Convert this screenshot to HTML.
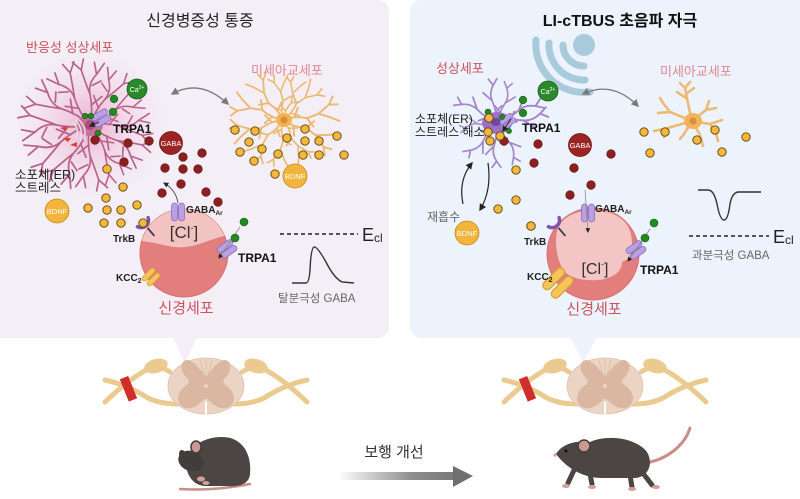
<!DOCTYPE html>
<html><head><meta charset="utf-8"><style>
html,body{margin:0;padding:0;background:#fff;}
svg{display:block;font-family:"Liberation Sans","Noto Sans CJK KR",sans-serif;}
</style></head><body>
<svg width="800" height="499" viewBox="0 0 800 499" xmlns="http://www.w3.org/2000/svg">
<defs>
<radialGradient id="glow" cx="0.5" cy="0.5" r="0.5">
<stop offset="0" stop-color="#e27aae" stop-opacity="0.55"/>
<stop offset="0.45" stop-color="#eba2c6" stop-opacity="0.3"/>
<stop offset="1" stop-color="#f3d2e4" stop-opacity="0"/>
</radialGradient>
<linearGradient id="arw" x1="338" y1="0" x2="473" y2="0" gradientUnits="userSpaceOnUse">
<stop offset="0" stop-color="#ffffff"/>
<stop offset="0.55" stop-color="#8d8d8d"/>
<stop offset="1" stop-color="#6f6f6f"/>
</linearGradient>
<marker id="ahg" viewBox="0 0 10 10" refX="8" refY="5" markerWidth="6" markerHeight="6" orient="auto-start-reverse"><path d="M0,0 L10,5 L0,10 z" fill="#7a7a7a"/></marker>
<marker id="ahk" viewBox="0 0 10 10" refX="8" refY="5" markerWidth="6" markerHeight="6" orient="auto-start-reverse"><path d="M0,0 L10,5 L0,10 z" fill="#222"/></marker>
<path id="ab" d="M0,0 Q14,-3 28,0 Q38,2 46,-6 M28,0 Q38,4 50,8 M46,-6 L56,-13 M46,-6 L57,-4 M50,8 L60,6 M50,8 L57,16 M18,-1 L26,-11 M36,-2 L40,-10"/>
<path id="mg" d="M0,0 Q10,-2 20,2 L30,0 L40,-6 M30,0 L40,5 M20,2 L24,10 M40,-6 L44,-12 M40,-6 L47,-5 M40,5 L46,9 M10,-1 L14,-8"/>
<path id="pb" d="M0,0 Q12,-2 24,1 Q32,3 40,-3 M24,1 L34,9 M40,-3 L46,-8 M40,-3 L47,1 M12,-1 L17,-8"/>
<g id="ch"><rect x="-6.5" y="-9" width="6" height="18" rx="3" fill="#b9a0e2" stroke="#8c6cc2" stroke-width="0.8"/><rect x="0.5" y="-9" width="6" height="18" rx="3" fill="#b9a0e2" stroke="#8c6cc2" stroke-width="0.8"/></g>
<g id="kc"><rect x="-6" y="-8" width="5" height="16" rx="2.5" fill="#f5c55a" stroke="#d9a236" stroke-width="0.8"/><rect x="1" y="-8" width="5" height="16" rx="2.5" fill="#f5c55a" stroke="#d9a236" stroke-width="0.8"/></g>
<g id="tk"><path d="M-7,-5 A7.5,7.5 0 0 0 7,-5" stroke="#7d56ab" stroke-width="3.5" fill="none" stroke-linecap="round"/><line x1="0" y1="2.5" x2="0" y2="13" stroke="#3a3a4a" stroke-width="1.8"/></g>
</defs>

<!-- Panels -->
<rect x="-10" y="0" width="399" height="338" rx="11" fill="#f4eff6"/>
<path d="M173,337 L185,363 L197,337 Z" fill="#f4eff6"/>
<rect x="410" y="0" width="400" height="338" rx="11" fill="#ecf3fc"/>
<path d="M570,337 L583,362 L597,337 Z" fill="#ecf3fc"/>

<!-- Titles -->
<text x="200" y="26" font-size="16" text-anchor="middle" fill="#222">신경병증성 통증</text>
<text x="620" y="26" font-size="16" font-weight="bold" text-anchor="middle" fill="#111">LI-cTBUS 초음파 자극</text>

<!-- ============ LEFT PANEL ============ -->
<text x="26" y="52" font-size="13" fill="#c9525c">반응성 성상세포</text>
<text x="251" y="75" font-size="13" fill="#e0868f">미세아교세포</text>

<!-- left astrocyte -->
<circle cx="90" cy="125" r="80" fill="url(#glow)"/>
<g stroke="#b8628a" stroke-width="1.5" fill="none" stroke-linecap="round">
<use href="#ab" transform="translate(90,125) rotate(2) scale(1.05)"/>
<use href="#ab" transform="translate(90,125) rotate(30) scale(1.1,-1.1)"/>
<use href="#ab" transform="translate(90,125) rotate(60) scale(1.05)"/>
<use href="#ab" transform="translate(90,125) rotate(90) scale(1.1,-1.1)"/>
<use href="#ab" transform="translate(90,125) rotate(120) scale(1.15)"/>
<use href="#ab" transform="translate(90,125) rotate(150) scale(1.2,-1.2)"/>
<use href="#ab" transform="translate(90,125) rotate(180) scale(1.2)"/>
<use href="#ab" transform="translate(90,125) rotate(210) scale(1.15,-1.15)"/>
<use href="#ab" transform="translate(90,125) rotate(240) scale(1.1)"/>
<use href="#ab" transform="translate(90,125) rotate(270) scale(1.1,-1.1)"/>
<use href="#ab" transform="translate(90,125) rotate(300) scale(1.05)"/>
<use href="#ab" transform="translate(90,125) rotate(330) scale(1.0,-1.0)"/>
</g>
<ellipse cx="90" cy="125" rx="13" ry="11" fill="#c8709a"/>
<circle cx="90" cy="125" r="5" fill="#a84c78"/>
<!-- ER -->
<g fill="none" stroke="#e6e0e6" stroke-width="1.5">
<path d="M72,122 Q80,128 76,138"/><path d="M75,120 Q84,128 80,140"/><path d="M78,119 Q88,128 84,140"/>
</g>
<g fill="#e23a36">
<path d="M60,128 l7,-2 l-1,5 z"/><path d="M63,138 l8,0 l-3,4 z"/><path d="M70,145 l7,-3 l0,5 z"/>
</g>
<use href="#ch" transform="translate(101,118) rotate(60)"/>
<line x1="99" y1="122" x2="90" y2="126" stroke="#222" stroke-width="1" marker-end="url(#ahk)"/>
<text x="113" y="133" font-size="12" font-weight="bold" fill="#111">TRPA1</text>

<!-- Ca2+ -->
<circle cx="137" cy="89" r="10" fill="#2a8a2a" stroke="#1c5e1c" stroke-width="0.8"/>
<text x="137" y="92" font-size="7" fill="#fff" text-anchor="middle">Ca<tspan font-size="5" dy="-3">2+</tspan></text>
<g fill="#238a23" stroke="#165e16" stroke-width="0.6">
<circle cx="114" cy="99" r="3.8"/><circle cx="113" cy="112" r="3.8"/><circle cx="85" cy="116" r="2.8"/><circle cx="91" cy="116" r="2.8"/><circle cx="98" cy="133" r="3"/>
</g>

<!-- GABA -->
<circle cx="171" cy="143" r="11.5" fill="#9b2424" stroke="#6e1414" stroke-width="0.8"/>
<text x="171" y="146" font-size="7.5" fill="#fff" text-anchor="middle">GABA</text>
<g fill="#8e1f1f" stroke="#5c1010" stroke-width="0.6">
<circle cx="95" cy="140" r="4.3"/><circle cx="128" cy="143" r="4.3"/><circle cx="149" cy="141" r="4.3"/><circle cx="183" cy="157" r="4.3"/><circle cx="202" cy="153" r="4.3"/><circle cx="124" cy="162" r="4.3"/><circle cx="165" cy="168" r="4.3"/><circle cx="183" cy="169" r="4.3"/><circle cx="198" cy="169" r="4.3"/><circle cx="181" cy="184" r="4.3"/><circle cx="162" cy="193" r="4.3"/><circle cx="206" cy="192" r="4.3"/><circle cx="218" cy="202" r="4.3"/>
</g>

<text x="15" y="179" font-size="12.5" fill="#222">소포체(ER)</text>
<text x="15" y="192" font-size="12.5" fill="#222">스트레스</text>

<!-- left microglia -->
<g stroke="#ebb872" stroke-width="1.6" fill="none" stroke-linecap="round">
<use href="#mg" transform="translate(283,120) rotate(-95) scale(0.95)"/>
<use href="#mg" transform="translate(283,120) rotate(-125) scale(1.1,-1.1)"/>
<use href="#mg" transform="translate(283,120) rotate(-160) scale(1.15)"/>
<use href="#mg" transform="translate(283,120) rotate(165) scale(1.15,-1.15)"/>
<use href="#mg" transform="translate(283,120) rotate(130) scale(1.05)"/>
<use href="#mg" transform="translate(283,120) rotate(95) scale(1.0,-1.0)"/>
<use href="#mg" transform="translate(283,120) rotate(60) scale(1.0)"/>
<use href="#mg" transform="translate(283,120) rotate(25) scale(1.2,-1.2)"/>
<use href="#mg" transform="translate(283,120) rotate(-10) scale(1.2)"/>
<use href="#mg" transform="translate(283,120) rotate(-45) scale(1.05,-1.05)"/>
<use href="#mg" transform="translate(283,120) rotate(-70) scale(0.95)"/>
</g>
<ellipse cx="284" cy="120" rx="8" ry="7" fill="#f2b44e"/>
<circle cx="284" cy="120" r="3.5" fill="#dd8a3a"/>

<g fill="#f3b83b" stroke="#5e4310" stroke-width="0.9">
<circle cx="107" cy="169" r="4.2"/><circle cx="123" cy="187" r="4.2"/><circle cx="106" cy="198" r="4.2"/><circle cx="88" cy="208" r="4.2"/><circle cx="107" cy="210" r="4.2"/><circle cx="121" cy="210" r="4.2"/><circle cx="137" cy="205" r="4.2"/><circle cx="104" cy="223" r="4.2"/><circle cx="121" cy="223" r="4.2"/>
<circle cx="235" cy="130" r="4.2"/><circle cx="255" cy="131" r="4.2"/><circle cx="249" cy="142" r="4.2"/><circle cx="240" cy="152" r="4.2"/><circle cx="262" cy="149" r="4.2"/><circle cx="254" cy="161" r="4.2"/><circle cx="278" cy="154" r="4.2"/><circle cx="287" cy="138" r="4.2"/><circle cx="305" cy="129" r="4.2"/><circle cx="305" cy="141" r="4.2"/><circle cx="319" cy="141" r="4.2"/><circle cx="337" cy="136" r="4.2"/><circle cx="319" cy="155" r="4.2"/><circle cx="303" cy="155" r="4.2"/><circle cx="344" cy="155" r="4.2"/><circle cx="275" cy="174" r="4.2"/>
</g>
<circle cx="295" cy="176" r="12" fill="#f2b43a" stroke="#c98a1e" stroke-width="0.8"/>
<text x="295" y="179" font-size="7.5" fill="#fff" text-anchor="middle">BDNF</text>
<circle cx="57" cy="211" r="12" fill="#f2b43a" stroke="#c98a1e" stroke-width="0.8"/>
<text x="57" y="214" font-size="7.5" fill="#fff" text-anchor="middle">BDNF</text>

<path d="M172,94 Q200,78 228,104" fill="none" stroke="#7a7a7a" stroke-width="1.3" marker-start="url(#ahg)" marker-end="url(#ahg)"/>

<!-- left neuron -->
<defs><clipPath id="cl1"><circle cx="184" cy="253" r="44"/></clipPath><clipPath id="cl2"><circle cx="593" cy="254" r="46"/></clipPath></defs>
<circle cx="184" cy="253" r="44" fill="#e27e7c" stroke="#d86e6e" stroke-width="1"/>
<path clip-path="url(#cl1)" d="M130,205 L240,205 L240,232 Q222,236 205,242 Q185,250 168,246 Q152,242 135,240 Z" fill="#f2c3c1"/>
<text x="184" y="238" font-size="17" text-anchor="middle" fill="#333">[Cl<tspan font-size="9" dy="-7">-</tspan><tspan dy="7">]</tspan></text>
<use href="#ch" transform="translate(178,212)"/>
<path d="M178,203 Q176,190 164,183" fill="none" stroke="#444" stroke-width="0.9" marker-end="url(#ahk)"/>
<text x="186" y="213" font-size="10" font-weight="bold" fill="#222">GABA<tspan font-size="6.5" dy="2">Ar</tspan></text>
<use href="#tk" transform="translate(146,226) rotate(-40)"/>
<circle cx="143" cy="223" r="4.2" fill="#f3b83b" stroke="#5e4310" stroke-width="0.9"/>
<text x="113" y="242" font-size="10" font-weight="bold" fill="#222">TrkB</text>
<use href="#kc" transform="translate(151,277) rotate(45)"/>
<text x="116" y="281" font-size="10" font-weight="bold" fill="#222">KCC<tspan font-size="7" dy="2">2</tspan></text>
<use href="#ch" transform="translate(227,249) rotate(55)"/>
<line x1="240" y1="227" x2="219" y2="258" stroke="#888" stroke-width="0.8" marker-end="url(#ahk)"/>
<g fill="#238a23" stroke="#165e16" stroke-width="0.6"><circle cx="244" cy="222" r="4"/><circle cx="235" cy="238" r="4"/></g>
<text x="238" y="262" font-size="12" font-weight="bold" fill="#111">TRPA1</text>
<text x="186" y="313" font-size="15" text-anchor="middle" fill="#c9525c">신경세포</text>

<line x1="280" y1="234" x2="358" y2="234" stroke="#222" stroke-width="1.4" stroke-dasharray="4,3"/>
<text x="362" y="241" font-size="18" fill="#222">E<tspan font-size="12" dy="1">cl</tspan></text>
<path d="M292,283 L306,283 Q309,283 310,270 Q311,248 314,247 Q317,246 326,262 Q334,278 342,282 L354,283" fill="none" stroke="#333" stroke-width="1.4"/>
<text x="278" y="302" font-size="11.5" fill="#666">탈분극성 GABA</text>

<!-- ============ RIGHT PANEL ============ -->
<text x="436" y="73" font-size="13" fill="#c9525c">성상세포</text>
<text x="660" y="76" font-size="13" fill="#e0868f">미세아교세포</text>

<!-- ultrasound -->
<g fill="none" stroke="#a9cadb" stroke-width="7" stroke-linecap="round">
<path d="M563,45 A21,21 0 0 0 584,66"/>
<path d="M549,43 A35,35 0 0 0 585,80"/>
<path d="M536,40 A48,48 0 0 0 590,92"/>
</g>
<circle cx="584" cy="45" r="11" fill="#a9cadb"/>

<!-- right astrocyte -->
<g stroke="#a585cb" stroke-width="1.8" fill="none" stroke-linecap="round">
<use href="#pb" transform="translate(497,123) rotate(-148) scale(1.0)"/>
<use href="#pb" transform="translate(497,123) rotate(-100) scale(0.95,-0.95)"/>
<use href="#pb" transform="translate(497,123) rotate(-70) scale(0.9)"/>
<use href="#pb" transform="translate(497,123) rotate(-28) scale(1.05,-1.05)"/>
<use href="#pb" transform="translate(497,123) rotate(-8) scale(1.1)"/>
<use href="#pb" transform="translate(497,123) rotate(130) scale(0.95,-0.95)"/>
<use href="#pb" transform="translate(497,123) rotate(95) scale(0.95)"/>
<use href="#pb" transform="translate(497,123) rotate(60) scale(0.95,-0.95)"/>
<use href="#pb" transform="translate(497,123) rotate(175) scale(0.8)"/>
</g>
<ellipse cx="497" cy="123" rx="15" ry="11" fill="#9c72c6"/>
<ellipse cx="496" cy="122" rx="5" ry="4" fill="#6d4a9c"/>
<use href="#ch" transform="translate(508,121) rotate(50) scale(0.8)"/>
<line x1="511" y1="119" x2="503" y2="131" stroke="#222" stroke-width="1" marker-end="url(#ahk)"/>
<text x="522" y="132" font-size="12" font-weight="bold" fill="#111">TRPA1</text>
<text x="415" y="123" font-size="12" fill="#222">소포체(ER)</text>
<text x="415" y="136" font-size="12" fill="#222">스트레스 해소</text>

<circle cx="548" cy="91" r="10" fill="#2a8a2a" stroke="#1c5e1c" stroke-width="0.8"/>
<text x="548" y="94" font-size="7" fill="#fff" text-anchor="middle">Ca<tspan font-size="5" dy="-3">2+</tspan></text>
<g fill="#238a23" stroke="#165e16" stroke-width="0.6">
<circle cx="488" cy="112" r="3"/><circle cx="502" cy="117" r="2.6"/><circle cx="509" cy="131" r="2.6"/><circle cx="523" cy="100" r="3.8"/><circle cx="523" cy="113" r="3.8"/>
</g>
<circle cx="580" cy="145" r="11.5" fill="#9b2424" stroke="#6e1414" stroke-width="0.8"/>
<text x="580" y="148" font-size="7.5" fill="#fff" text-anchor="middle">GABA</text>
<g fill="#8e1f1f" stroke="#5c1010" stroke-width="0.6">
<circle cx="504" cy="141" r="4.3"/><circle cx="538" cy="144" r="4.3"/><circle cx="611" cy="154" r="4.3"/><circle cx="534" cy="163" r="4.3"/><circle cx="574" cy="168" r="4.3"/><circle cx="591" cy="185" r="4.3"/><circle cx="570" cy="195" r="4.3"/>
</g>

<!-- right microglia -->
<g stroke="#ecb976" stroke-width="2.6" fill="none" stroke-linecap="round">
<path d="M692,121 Q688,105 685,88 M686,98 L677,92 M686,94 L694,88 M685,88 L680,83 M685,88 L690,82"/>
<path d="M692,121 L670,112 L658,113 M670,112 L663,103 M663,103 L660,98"/>
<path d="M692,121 L668,128 L654,131 M668,128 L664,137"/>
<path d="M692,121 L684,134 L680,139"/>
<path d="M692,121 L700,135 L703,146"/>
<path d="M692,121 L710,124 L722,120 M710,124 L716,133 M716,133 L718,141"/>
<path d="M692,121 L706,110 L716,108 M706,110 L709,101"/>
</g>
<ellipse cx="693" cy="121" rx="9" ry="8" fill="#f2b458"/>
<circle cx="693" cy="121" r="3.5" fill="#dc8d3c"/>

<g fill="#f3b83b" stroke="#5e4310" stroke-width="0.9">
<circle cx="489" cy="118" r="4.2"/><circle cx="488" cy="132" r="4.2"/><circle cx="500" cy="136" r="4.2"/><circle cx="490" cy="141" r="4.2"/>
<circle cx="516" cy="170" r="4.2"/><circle cx="516" cy="200" r="4.2"/><circle cx="498" cy="209" r="4.2"/><circle cx="531" cy="226" r="4.2"/>
<circle cx="650" cy="153" r="4.2"/><circle cx="644" cy="132" r="4.2"/><circle cx="665" cy="132" r="4.2"/><circle cx="697" cy="140" r="4.2"/><circle cx="715" cy="130" r="4.2"/><circle cx="746" cy="137" r="4.2"/><circle cx="722" cy="152" r="4.2"/>
</g>

<path d="M583,94 Q612,80 638,106" fill="none" stroke="#7a7a7a" stroke-width="1.3" marker-start="url(#ahg)" marker-end="url(#ahg)"/>

<!-- reuptake -->
<path d="M463,204 Q458,180 472,163" fill="none" stroke="#222" stroke-width="1.2" marker-end="url(#ahk)"/>
<path d="M488,163 Q492,190 480,210" fill="none" stroke="#222" stroke-width="1.2" marker-end="url(#ahk)"/>
<text x="427" y="221" font-size="12" fill="#666">재흡수</text>
<circle cx="467" cy="233" r="12" fill="#f2b43a" stroke="#c98a1e" stroke-width="0.8"/>
<text x="467" y="236" font-size="7.5" fill="#fff" text-anchor="middle">BDNF</text>

<!-- right neuron -->
<circle cx="593" cy="254" r="46" fill="#e27e7c" stroke="#d86e6e" stroke-width="1"/>
<path clip-path="url(#cl2)" d="M556,240 Q556,212 593,210 Q632,212 632,244 Q632,252 630,258 L622,262 Q622,276 600,280 Q570,282 562,268 Q556,256 556,240 Z" fill="#f3c6c5"/>
<text x="595" y="274" font-size="16" text-anchor="middle" fill="#333">[Cl<tspan font-size="9" dy="-7">-</tspan><tspan dy="7">]</tspan></text>
<use href="#ch" transform="translate(588,213)"/>
<line x1="585" y1="190" x2="588" y2="232" stroke="#888" stroke-width="0.8" marker-end="url(#ahk)"/>
<text x="595" y="212" font-size="10" font-weight="bold" fill="#222">GABA<tspan font-size="6.5" dy="2">Ar</tspan></text>
<use href="#tk" transform="translate(557,226) rotate(-40)"/>
<circle cx="531" cy="226" r="4.2" fill="#f3b83b" stroke="#5e4310" stroke-width="0.9"/>
<text x="524" y="245" font-size="10" font-weight="bold" fill="#222">TrkB</text>
<use href="#kc" transform="translate(558,283) rotate(45) scale(1.7)"/>
<text x="527" y="280" font-size="10" font-weight="bold" fill="#222">KCC<tspan font-size="7" dy="2">2</tspan></text>
<use href="#ch" transform="translate(636,250) rotate(55)"/>
<line x1="650" y1="229" x2="628" y2="261" stroke="#888" stroke-width="0.8" marker-end="url(#ahk)"/>
<g fill="#238a23" stroke="#165e16" stroke-width="0.6"><circle cx="654" cy="223" r="4"/><circle cx="645" cy="238" r="4"/></g>
<text x="640" y="274" font-size="12" font-weight="bold" fill="#111">TRPA1</text>
<text x="594" y="314" font-size="15" text-anchor="middle" fill="#c9525c">신경세포</text>

<path d="M698,190 L708,190 Q714,190 717,204 Q720,220 724,220 Q728,220 730,204 Q732,193 738,192 L761,192" fill="none" stroke="#333" stroke-width="1.4"/>
<line x1="689" y1="236" x2="769" y2="236" stroke="#222" stroke-width="1.4" stroke-dasharray="4,3"/>
<text x="773" y="243" font-size="18" fill="#222">E<tspan font-size="12" dy="1">cl</tspan></text>
<text x="692" y="259" font-size="11.5" fill="#666">과분극성 GABA</text>

<!-- ============ SPINAL CORDS ============ -->
<g id="sc1">
<g fill="none" stroke="#ebca90" stroke-width="5" stroke-linecap="round">
<path d="M170,372 Q160,365 150,368 Q130,378 105,402"/>
<path d="M178,404 Q160,404 148,398 Q128,385 105,380"/>
<path d="M242,372 Q252,365 262,368 Q282,378 307,402"/>
<path d="M234,404 Q252,404 264,398 Q284,385 307,380"/>
</g>
<ellipse cx="156" cy="366" rx="12" ry="7" fill="#ebca90" transform="rotate(-15 156 366)"/>
<ellipse cx="256" cy="366" rx="12" ry="7" fill="#ebca90" transform="rotate(15 256 366)"/>
<rect x="124" y="377" width="9" height="24" fill="#cf2e2a" transform="rotate(-22 128 389)"/>
<ellipse cx="206" cy="386" rx="38" ry="28" fill="#ecd4c4" stroke="#dfc2b0" stroke-width="0.8"/>
<path d="M206,380 C200,372 194,364 188,362 C182,362 182,370 188,376 C192,380 192,384 186,388 C178,394 178,404 186,406 C194,408 200,400 206,396 C212,400 218,408 226,406 C234,404 234,394 226,388 C220,384 220,380 224,376 C230,370 230,362 224,362 C218,364 212,372 206,380 Z" fill="#dbb7a2" stroke="#dbb7a2" stroke-width="4" stroke-linejoin="round"/>
<circle cx="206" cy="386" r="2" fill="#ecd4c4"/>
<path d="M206,359 L206,376 M200,360 L204,375 M212,360 L208,375" stroke="#d9bba8" stroke-width="0.8" fill="none"/>
<path d="M206,402 L206,414" stroke="#fff" stroke-width="2"/>
</g>
<use href="#sc1" transform="translate(399,0)"/>

<!-- ============ MICE ============ -->
<!-- sleeping mouse -->
<path d="M180,489 Q215,491 250,484" fill="none" stroke="#c98d8a" stroke-width="2.5" stroke-linecap="round"/>
<path d="M186,466 C186,448 202,437 222,437 C243,437 252,455 250,474 C249,485 238,487 226,486 L206,486 C195,486 188,478 186,466 Z" fill="#4b4643"/>
<ellipse cx="191" cy="461" rx="13" ry="10" fill="#423d3a" transform="rotate(20 191 461)"/>
<ellipse cx="196" cy="447" rx="5" ry="6" fill="#c99a95" stroke="#423d3a" stroke-width="1.5"/>
<ellipse cx="182" cy="454" rx="3" ry="4" fill="#423d3a"/>
<ellipse cx="201" cy="479" rx="4" ry="2.5" fill="#d3a09b"/>
<ellipse cx="206" cy="483" rx="3.5" ry="2" fill="#d3a09b"/>

<!-- walking mouse -->
<path d="M645,463 C665,460 684,447 690,428" fill="none" stroke="#c98d8a" stroke-width="3" stroke-linecap="round"/>
<path d="M556,454 C562,444 576,440 590,442 C608,434 636,438 647,452 C654,464 648,478 634,478 L602,478 C585,478 568,470 556,454 Z" fill="#4b4643"/>
<path d="M575,468 L568,483 M590,474 L592,484 M630,475 L632,487 M642,472 L652,485" stroke="#4b4643" stroke-width="5" stroke-linecap="round"/>
<g fill="#d3a09b"><ellipse cx="566" cy="486" rx="4" ry="2"/><ellipse cx="592" cy="487" rx="4" ry="2"/><ellipse cx="632" cy="489" rx="4" ry="2"/><ellipse cx="656" cy="487" rx="4" ry="2"/></g>
<ellipse cx="584" cy="446" rx="6" ry="6" fill="#c99a95" stroke="#423d3a" stroke-width="1.5"/>
<circle cx="566" cy="451" r="1.5" fill="#111"/>
<circle cx="555" cy="455" r="1.6" fill="#d3a09b"/>

<!-- arrow -->
<rect x="338" y="472" width="118" height="8" fill="url(#arw)"/>
<path d="M453,466 L473,476 L453,487 Z" fill="#6f6f6f"/>
<text x="394" y="457" font-size="15" text-anchor="middle" fill="#333">보행 개선</text>
</svg>
</body></html>
